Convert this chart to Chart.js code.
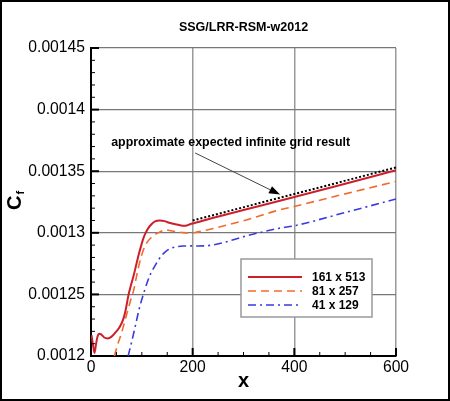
<!DOCTYPE html>
<html><head><meta charset="utf-8">
<script src="https://cdn.jsdelivr.net/npm/chart.js@4/dist/chart.umd.min.js"></script>
<style>html,body{margin:0;padding:0;background:#fff}canvas{display:block}</style>
</head><body>
<canvas id="c" width="450" height="401"></canvas>
<script>
const chartTitle = "SSG/LRR-RSM-w2012";
const xAxisTitle = "x";
const seriesNames = ["161 x 513", "81 x 257", "41 x 129"];

const xRed = [1, 4, 7, 10, 13, 16, 20, 26, 33, 40, 50, 57, 63, 68, 74, 79, 84, 89, 94, 99, 103, 108, 113, 119, 126, 135, 145, 152, 162, 171, 180, 186, 195, 204, 215, 227, 300, 400, 500, 600];
const yRed = [0.001217, 0.001209, 0.0012025, 0.00121, 0.001216, 0.001218, 0.0012175, 0.001215, 0.0012142, 0.0012155, 0.00122, 0.001224, 0.0012293, 0.001237, 0.00125, 0.001258, 0.0012655, 0.001274, 0.0012825, 0.00129, 0.0012955, 0.0013003, 0.001304, 0.001307, 0.0013092, 0.00131, 0.0013095, 0.0013084, 0.0013073, 0.0013065, 0.0013058, 0.0013057, 0.001307, 0.0013079, 0.0013092, 0.0013106, 0.0013185, 0.001329, 0.0013398, 0.0013507];

const xOrange = [46, 53, 60, 65, 70, 75, 80, 84, 90, 96, 103, 110, 118, 125, 135, 145, 155, 165, 178, 191, 205, 224, 300, 372, 400, 500, 600];
const yOrange = [0.0012, 0.00121, 0.0012185, 0.001226, 0.0012335, 0.001241, 0.001248, 0.0012535, 0.0012655, 0.0012765, 0.001286, 0.001292, 0.001296, 0.0012984, 0.0013005, 0.0013024, 0.0013018, 0.001301, 0.0013003, 0.0012998, 0.0013003, 0.0013019, 0.0013098, 0.0013187, 0.0013214, 0.0013316, 0.0013417];

const xBlue = [73, 80, 87, 95, 103, 110, 117, 125, 132, 140, 148, 158, 171, 185, 198, 210, 224, 241, 260, 307, 372, 400, 500, 600];
const yBlue = [0.0012, 0.0012115, 0.001224, 0.0012385, 0.00125, 0.001259, 0.0012665, 0.0012725, 0.0012775, 0.001282, 0.0012852, 0.0012875, 0.0012889, 0.0012893, 0.0012894, 0.0012893, 0.0012894, 0.0012902, 0.001292, 0.0012976, 0.0013038, 0.0013057, 0.0013165, 0.0013274];

const xExpected = [200, 600];
const yExpected = [0.00131, 0.001353];

const annotationText = "approximate expected infinite grid result";
const annotationAt = [274.7, 0.0013729];
const arrowFrom = [204.8, 0.0013648];
const arrowTo = [372, 0.001331];

const xTickValues = [0, 200, 400, 600];
const yTickValues = [0.0012, 0.00125, 0.0013, 0.00135, 0.0014, 0.00145];
const yTickLabels = ["0.0012", "0.00125", "0.0013", "0.00135", "0.0014", "0.00145"];
const xMinorStep = 50;
const yMinorStep = 0.00001;

const toPts = (xs, ys) => xs.map((x, i) => ({x: x, y: ys[i]}));
const FONT = "'Liberation Sans', Arial, Helvetica, sans-serif";

const decor = {
  id: 'decor',
  afterDraw(chart) {
    const ctx = chart.ctx, xs = chart.scales.x, ys = chart.scales.y, a = chart.chartArea;
    ctx.save();
    // ticks inward
    ctx.strokeStyle = '#000';
    const x0 = xs.min, x1 = xs.max, y0 = ys.min, y1 = ys.max;
    const nx = Math.round((x1 - x0) / xMinorStep);
    for (let i = 0; i <= nx; i++) {
      const v = x0 + i * xMinorStep;
      const major = xTickValues.includes(v);
      const px = xs.getPixelForValue(v);
      ctx.lineWidth = major ? 2 : 1;
      ctx.beginPath(); ctx.moveTo(px, a.bottom); ctx.lineTo(px, a.bottom - (major ? 8 : 4)); ctx.stroke();
    }
    const ny = Math.round((y1 - y0) / yMinorStep);
    for (let i = 0; i <= ny; i++) {
      const v = y0 + i * yMinorStep;
      const major = i % 5 === 0;
      const py = ys.getPixelForValue(v);
      ctx.lineWidth = major ? 2 : 1;
      ctx.beginPath(); ctx.moveTo(a.left, py); ctx.lineTo(a.left + (major ? 8 : 4), py); ctx.stroke();
    }
    // annotation text
    ctx.fillStyle = '#000';
    ctx.font = "bold 12.4px " + FONT;
    ctx.textAlign = 'center'; ctx.textBaseline = 'middle';
    ctx.fillText(annotationText, xs.getPixelForValue(annotationAt[0]), ys.getPixelForValue(annotationAt[1]));
    // arrow
    const ax0 = xs.getPixelForValue(arrowFrom[0]), ay0 = ys.getPixelForValue(arrowFrom[1]);
    const ax1 = xs.getPixelForValue(arrowTo[0]), ay1 = ys.getPixelForValue(arrowTo[1]);
    const ang = Math.atan2(ay1 - ay0, ax1 - ax0);
    const hl = 11, hw = 4;
    ctx.strokeStyle = '#444'; ctx.lineWidth = 1;
    ctx.beginPath(); ctx.moveTo(ax0, ay0);
    ctx.lineTo(ax1 - hl * Math.cos(ang), ay1 - hl * Math.sin(ang)); ctx.stroke();
    ctx.fillStyle = '#000';
    ctx.beginPath();
    ctx.moveTo(ax1, ay1);
    ctx.lineTo(ax1 - hl * Math.cos(ang) + hw * Math.sin(ang), ay1 - hl * Math.sin(ang) - hw * Math.cos(ang));
    ctx.lineTo(ax1 - hl * Math.cos(ang) - hw * Math.sin(ang), ay1 - hl * Math.sin(ang) + hw * Math.cos(ang));
    ctx.closePath(); ctx.fill();
    // legend box
    const lx = 241, ly = 259, lw = 131, lh = 58;
    ctx.fillStyle = '#fff'; ctx.fillRect(lx, ly, lw, lh);
    ctx.strokeStyle = '#999'; ctx.lineWidth = 1.5; ctx.strokeRect(lx, ly, lw, lh);
    ctx.font = "bold 12px " + FONT; ctx.textAlign = 'left'; ctx.textBaseline = 'middle';
    const rows = [277, 291, 305];
    for (let i = 0; i < 3; i++) {
      const ds = chart.data.datasets[i];
      ctx.strokeStyle = ds.borderColor; ctx.lineWidth = ds.borderWidth;
      ctx.setLineDash(ds.borderDash || []);
      ctx.beginPath(); ctx.moveTo(248, rows[i]); ctx.lineTo(302, rows[i]); ctx.stroke();
      ctx.setLineDash([]);
      ctx.fillStyle = '#000';
      ctx.fillText(ds.label, 312, rows[i] + 0.5);
    }
    // titles
    ctx.fillStyle = '#000'; ctx.textAlign = 'center'; ctx.textBaseline = 'middle';
    ctx.font = "bold 12.5px " + FONT;
    ctx.fillText(chartTitle, (a.left + a.right) / 2, 27.5);
    ctx.font = "bold 20px " + FONT;
    ctx.fillText(xAxisTitle, (a.left + a.right) / 2, 381);
    // y title C_f rotated
    ctx.save();
    ctx.translate(21, (a.top + a.bottom) / 2);
    ctx.rotate(-Math.PI / 2);
    ctx.textAlign = 'left'; ctx.textBaseline = 'alphabetic';
    ctx.font = "bold 20px " + FONT;
    ctx.fillText("C", -8, 0);
    ctx.font = "bold 11px " + FONT;
    ctx.fillText("f", 7.5, 2.5);
    ctx.restore();
    // outer frame
    ctx.strokeStyle = '#000'; ctx.lineWidth = 2;
    ctx.strokeRect(1, 1, 448, 399);
    ctx.restore();
  }
};

new Chart(document.getElementById('c'), {
  type: 'line',
  data: {
    datasets: [
      {label: seriesNames[0], data: toPts(xRed, yRed), borderColor: '#cc1f2b', borderWidth: 2, pointRadius: 0, cubicInterpolationMode: 'monotone', fill: false},
      {label: seriesNames[1], data: toPts(xOrange, yOrange), borderColor: '#f26a2c', borderWidth: 1.6, borderDash: [8, 5], pointRadius: 0, cubicInterpolationMode: 'monotone', fill: false},
      {label: seriesNames[2], data: toPts(xBlue, yBlue), borderColor: '#3a3ae0', borderWidth: 1.6, borderDash: [8, 4, 2, 4], pointRadius: 0, cubicInterpolationMode: 'monotone', fill: false},
      {label: 'expected', data: toPts(xExpected, yExpected), borderColor: '#000', borderWidth: 2, borderDash: [2, 2], pointRadius: 0, fill: false}
    ]
  },
  options: {
    responsive: false,
    animation: false,
    devicePixelRatio: 1,
    layout: {padding: {top: 48, right: 54, left: 0, bottom: 0}},
    plugins: {legend: {display: false}, tooltip: {enabled: false}, title: {display: false}},
    scales: {
      x: {
        type: 'linear', min: 0, max: 600,
        afterBuildTicks: s => { s.ticks = xTickValues.map(v => ({value: v})); },
        afterFit: s => { s.height = 45; },
        grid: {color: '#9a9a9a', lineWidth: 1.5, drawTicks: false},
        border: {color: '#000', width: 2},
        ticks: {font: {family: FONT, size: 15.7}, color: '#000', padding: 2, maxRotation: 0, callback: v => String(v)}
      },
      y: {
        type: 'linear', min: 0.0012, max: 0.00145,
        afterBuildTicks: s => { s.ticks = yTickValues.map(v => ({value: v})); },
        afterFit: s => { s.width = 91; },
        grid: {color: '#777', lineWidth: 1.2, drawTicks: false},
        border: {color: '#000', width: 2},
        ticks: {font: {family: FONT, size: 15.7}, color: '#000', padding: 6,
          callback: (v, i) => yTickLabels[i]}
      }
    }
  },
  plugins: [decor]
});
</script>
</body></html>
